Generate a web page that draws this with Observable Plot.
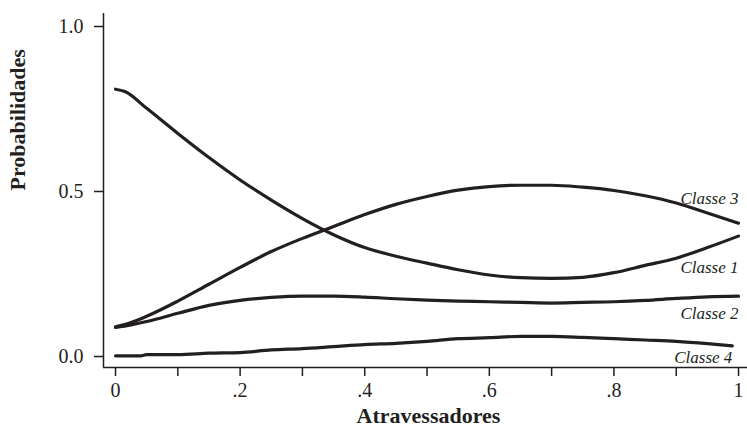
<!DOCTYPE html>
<html><head><meta charset="utf-8">
<script src="https://cdn.jsdelivr.net/npm/d3@7"></script>
<script src="https://cdn.jsdelivr.net/npm/@observablehq/plot@0.6"></script>
<style>body{margin:0;background:#fff} svg text{font-family:'Liberation Serif', serif;}</style>
</head><body><div id="chart"></div>
<script>
// Data
const seriesNames = ["Classe 1", "Classe 2", "Classe 3", "Classe 4"];
const xGrid1 = [0, 0.015, 0.05, 0.1, 0.15, 0.2, 0.25, 0.3, 0.35, 0.4, 0.45, 0.5, 0.55, 0.6, 0.65, 0.7, 0.75, 0.8, 0.85, 0.9, 0.95, 1];
const classe1 = [0.810, 0.803, 0.752, 0.676, 0.603, 0.535, 0.474, 0.418, 0.369, 0.330, 0.304, 0.283, 0.263, 0.247, 0.239, 0.237, 0.240, 0.254, 0.276, 0.298, 0.330, 0.365];
const xGrid = [0, 0.025, 0.05, 0.1, 0.15, 0.2, 0.25, 0.3, 0.35, 0.4, 0.45, 0.5, 0.55, 0.6, 0.65, 0.7, 0.75, 0.8, 0.85, 0.9, 0.95, 1];
const classe2 = [0.088, 0.096, 0.106, 0.131, 0.155, 0.170, 0.179, 0.183, 0.183, 0.180, 0.175, 0.171, 0.168, 0.166, 0.164, 0.162, 0.164, 0.166, 0.170, 0.176, 0.181, 0.183];
const classe3 = [0.090, 0.103, 0.122, 0.168, 0.219, 0.270, 0.318, 0.358, 0.394, 0.430, 0.461, 0.485, 0.504, 0.515, 0.519, 0.519, 0.513, 0.503, 0.487, 0.465, 0.435, 0.404];
const xGrid4 = [0, 0.04, 0.05, 0.1, 0.15, 0.2, 0.25, 0.3, 0.35, 0.4, 0.45, 0.5, 0.55, 0.6, 0.65, 0.7, 0.75, 0.8, 0.85, 0.9, 0.95, 0.99];
const classe4 = [0.002, 0.002, 0.006, 0.006, 0.010, 0.012, 0.020, 0.024, 0.030, 0.036, 0.040, 0.046, 0.054, 0.057, 0.061, 0.061, 0.058, 0.054, 0.050, 0.046, 0.039, 0.032];
const xTicks = [0, 0.1, 0.2, 0.3, 0.4, 0.5, 0.6, 0.7, 0.8, 0.9, 1];
const xTickLabels = ["0", "", ".2", "", ".4", "", ".6", "", ".8", "", "1"];
const yTicks = [0, 0.5, 1];
const yTickLabels = ["0.0", "0.5", "1.0"];
const xTitle = "Atravessadores";
const yTitle = "Probabilidades";

// Build table
const seriesX = [xGrid1, xGrid, xGrid, xGrid4];
const seriesY = [classe1, classe2, classe3, classe4];
const rows = [];
seriesNames.forEach((name, i) => {
  seriesY[i].forEach((v, j) => rows.push({series: name, x: seriesX[i][j], y: v}));
});
const lastRows = seriesNames.map((name, i) => ({series: name, x: seriesX[i][seriesX[i].length - 1], y: seriesY[i][seriesY[i].length - 1]}));
const labelDy = {"Classe 1": 31, "Classe 2": 17, "Classe 3": -25, "Classe 4": 12};

const ink = "#231f20";
const serif = "'Liberation Serif', serif";
const xDomain = [-0.0193, 1.0144];
const yDomain = [-0.0333, 1.0394];

const chart = Plot.plot({
  width: 747,
  height: 432,
  marginLeft: 103,
  marginRight: 0,
  marginTop: 13,
  marginBottom: 65,
  style: {fontFamily: serif, fontSize: "20px", color: ink, background: "#fff"},
  x: {domain: xDomain},
  y: {domain: yDomain},
  marks: [
    Plot.ruleX([xDomain[0]], {stroke: ink, strokeWidth: 1.5}),
    Plot.ruleY([yDomain[0]], {stroke: ink, strokeWidth: 1.5}),
    Plot.axisX(xTicks, {tickSize: 9, tickPadding: 6, strokeWidth: 1.5, fontSize: 20, fontFamily: serif, tickFormat: (d, i) => xTickLabels[i], label: null}),
    Plot.axisY(yTicks, {tickSize: 9, tickPadding: 11, strokeWidth: 1.5, fontSize: 20, fontFamily: serif, tickFormat: (d, i) => yTickLabels[i], label: null}),
    Plot.line(rows, {x: "x", y: "y", z: "series", stroke: ink, strokeWidth: 3.2, curve: "monotone-x"}),
    ...lastRows.map(r => Plot.text([r], {x: "x", y: "y", text: "series", textAnchor: "end", dy: labelDy[r.series], fontStyle: "italic", fontFamily: serif, fontSize: 17, fill: ink})),
    Plot.text([xTitle], {text: d => d, frameAnchor: "bottom", dy: 55, dx: 3, fontWeight: "bold", fontFamily: serif, fontSize: 22, fill: ink}),
    Plot.text([yTitle], {text: d => d, frameAnchor: "left", dx: -86, rotate: -90, fontWeight: "bold", fontFamily: serif, fontSize: 22, fill: ink})
  ]
});
document.getElementById("chart").appendChild(chart);
</script>
</body></html>
